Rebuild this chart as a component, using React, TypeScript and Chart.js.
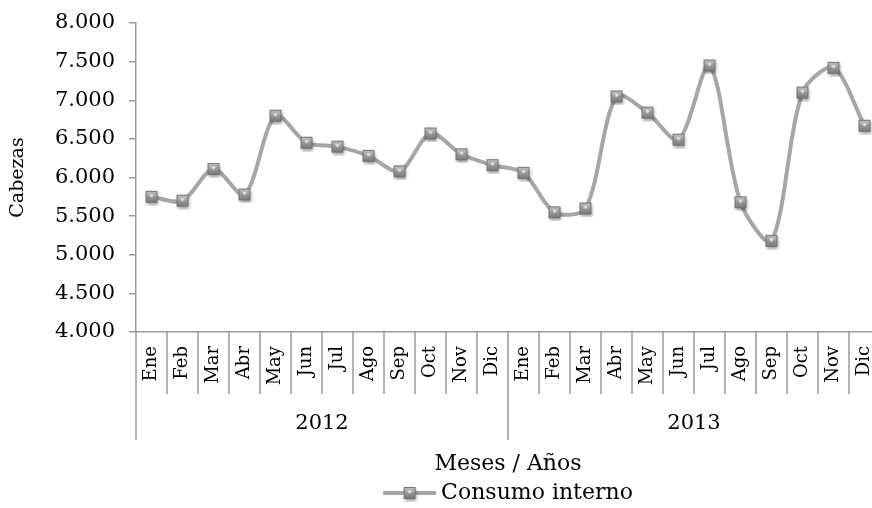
import React, { useEffect, useRef } from 'react';
import { Chart, registerables } from 'chart.js';

Chart.register(...registerables);

// ---------- data ----------
const MONTHS = ['Ene', 'Feb', 'Mar', 'Abr', 'May', 'Jun', 'Jul', 'Ago', 'Sep', 'Oct', 'Nov', 'Dic'];
const YEARS = ['2012', '2013'];
const CONSUMO_2012 = [5750, 5700, 6110, 5780, 6800, 6450, 6400, 6280, 6080, 6570, 6300, 6160];
const CONSUMO_2013 = [6060, 5550, 5600, 7050, 6840, 6490, 7450, 5680, 5180, 7100, 7420, 6670];
const Y_MIN = 4000;
const Y_MAX = 8000;
const Y_STEP = 500;
const SERIES_LABEL = 'Consumo interno';
const X_TITLE = 'Meses / Años';
const Y_TITLE = 'Cabezas';

// ---------- style ----------
const FONT = '"DejaVu Serif", serif';
const AXIS_COLOR = '#9a9a9a';
const LINE_COLOR = '#A6A6A6';
const TEXT_COLOR = '#000000';

const fmtThousands = (v: number) => String(Math.round(v)).replace(/\B(?=(\d{3})+(?!\d))/g, '.');

function makeMarker(): HTMLCanvasElement {
  const c = document.createElement('canvas');
  c.width = 18;
  c.height = 18;
  const g = c.getContext('2d')!;
  g.save();
  g.shadowColor = 'rgba(0,0,0,0.4)';
  g.shadowBlur = 3;
  g.shadowOffsetY = 2;
  g.shadowOffsetX = 0.5;
  const grad = g.createLinearGradient(0, 3, 0, 15);
  grad.addColorStop(0, '#c2c2c2');
  grad.addColorStop(0.5, '#989898');
  grad.addColorStop(1, '#767676');
  g.fillStyle = grad;
  g.fillRect(3, 3, 12, 12);
  g.restore();
  g.strokeStyle = 'rgba(110,110,110,0.9)';
  g.lineWidth = 1;
  g.strokeRect(3.5, 3.5, 11, 11);
  g.fillStyle = 'rgba(240,240,240,0.9)';
  g.beginPath();
  g.moveTo(6.5, 6.5);
  g.lineTo(11.5, 6.5);
  g.lineTo(9, 10);
  g.closePath();
  g.fill();
  return c;
}

export default function App() {
  const canvasRef = useRef<HTMLCanvasElement | null>(null);

  useEffect(() => {
    if (!canvasRef.current) return;
    const marker = makeMarker();
    const labels = YEARS.flatMap(() => MONTHS);
    const values = [...CONSUMO_2012, ...CONSUMO_2013];

    const multiLevelAxis = {
      id: 'multiLevelAxis',
      afterDraw(chart: any) {
        const { ctx, chartArea } = chart;
        const x = chart.scales.x;
        const n = labels.length;
        const step = x.getPixelForValue(1) - x.getPixelForValue(0);
        const boundary = (i: number) =>
          i >= n ? x.getPixelForValue(n - 1) + step / 2 : x.getPixelForValue(i) - step / 2;
        const top = x.top;
        const monthRow = 62;
        const yearRow = 108;
        ctx.save();
        ctx.strokeStyle = AXIS_COLOR;
        ctx.lineWidth = 1.5;
        for (let i = 0; i <= n; i++) {
          const isYear = i % MONTHS.length === 0;
          const px = boundary(i);
          ctx.beginPath();
          ctx.moveTo(px, top);
          ctx.lineTo(px, top + (isYear ? yearRow : monthRow));
          ctx.stroke();
        }
        ctx.fillStyle = TEXT_COLOR;
        ctx.textAlign = 'center';
        ctx.textBaseline = 'middle';
        ctx.font = `21px ${FONT}`;
        YEARS.forEach((yr, k) => {
          const a = boundary(k * MONTHS.length);
          const b = boundary((k + 1) * MONTHS.length);
          ctx.fillText(yr, (a + b) / 2, top + 92);
        });
        const cx = (chartArea.left + chartArea.right) / 2;
        ctx.font = `22px ${FONT}`;
        ctx.fillText(X_TITLE, cx, top + 132);

        // legend
        ctx.font = `22px ${FONT}`;
        const tw = ctx.measureText(SERIES_LABEL).width;
        const lineLen = 53;
        const gap = 5;
        const total = lineLen + gap + tw;
        const lx = cx - total / 2;
        const ly = top + 161;
        ctx.strokeStyle = LINE_COLOR;
        ctx.lineWidth = 4;
        ctx.beginPath();
        ctx.moveTo(lx, ly);
        ctx.lineTo(lx + lineLen, ly);
        ctx.stroke();
        ctx.drawImage(marker, lx + lineLen / 2 - marker.width / 2, ly - marker.height / 2);
        ctx.textAlign = 'left';
        ctx.fillText(SERIES_LABEL, lx + lineLen + gap, ly);
        ctx.restore();
      },
    };

    const chart = new Chart(canvasRef.current, {
      type: 'line',
      data: {
        labels,
        datasets: [
          {
            label: SERIES_LABEL,
            data: values,
            borderColor: LINE_COLOR,
            backgroundColor: LINE_COLOR,
            borderWidth: 4,
            tension: 0.3,
            pointStyle: marker as any,
            pointRadius: 6,
            fill: false,
          },
        ],
      },
      options: {
        responsive: false,
        animation: false,
        layout: { padding: { top: 23, right: 20, bottom: 0, left: 0 } },
        plugins: {
          legend: { display: false },
          title: { display: false },
          tooltip: { enabled: false },
        },
        scales: {
          x: {
            offset: true,
            ticks: {
              autoSkip: false,
              maxRotation: 90,
              minRotation: 90,
              color: TEXT_COLOR,
              font: { family: FONT, size: 18 },
              padding: 14,
            },
            grid: { drawOnChartArea: false, drawTicks: false },
            border: { color: AXIS_COLOR, width: 1.5 },
            afterFit: (s: any) => {
              s.height = 176;
              s.paddingLeft = 0;
              s.paddingRight = 0;
            },
          },
          y: {
            min: Y_MIN,
            max: Y_MAX,
            ticks: {
              stepSize: Y_STEP,
              color: TEXT_COLOR,
              font: { family: FONT, size: 21 },
              padding: 14,
              callback: (v: any) => fmtThousands(Number(v)),
            },
            grid: { drawOnChartArea: false, drawTicks: true, tickLength: 7, color: AXIS_COLOR, lineWidth: 1.5 },
            border: { color: AXIS_COLOR, width: 1.5 },
            title: {
              display: true,
              text: Y_TITLE,
              color: TEXT_COLOR,
              font: { family: FONT, size: 19 },
              padding: { top: 7, bottom: 0 },
            },
            afterFit: (s: any) => {
              s.width = 136;
              s.paddingTop = 0;
              s.paddingBottom = 0;
            },
          },
        },
      },
      plugins: [multiLevelAxis],
    });

    return () => chart.destroy();
  }, []);

  return (
    <div
      style={{
        position: 'fixed',
        left: 0,
        top: 0,
        width: 872,
        height: 508,
        overflow: 'hidden',
        background: '#ffffff',
      }}
    >
      <canvas ref={canvasRef} width={900} height={508} style={{ display: 'block' }} />
    </div>
  );
}
